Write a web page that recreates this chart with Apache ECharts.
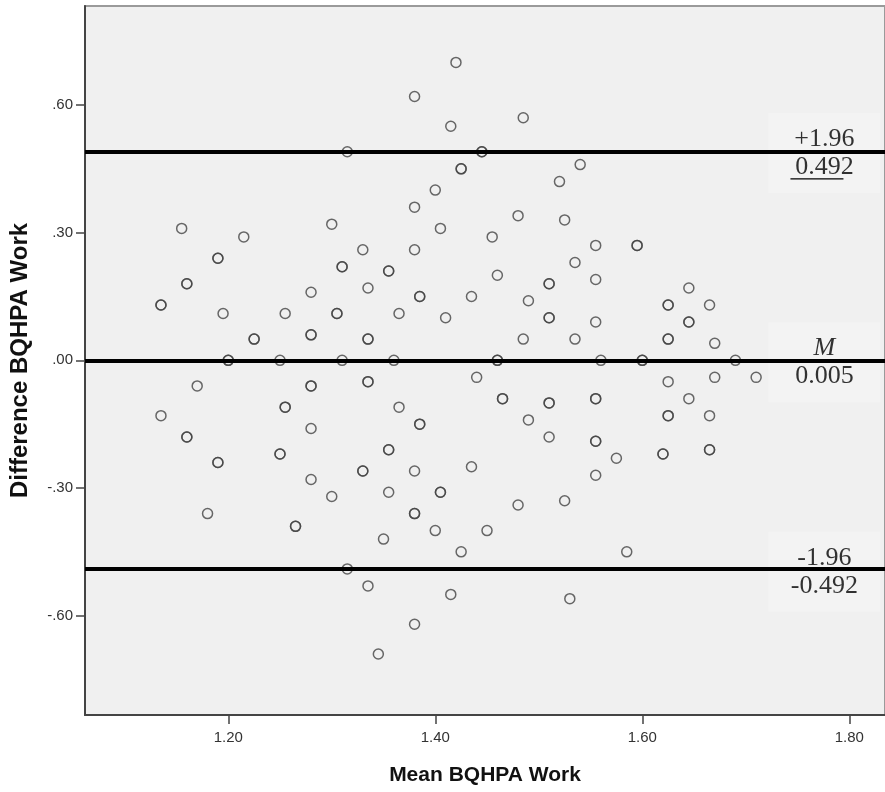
<!DOCTYPE html>
<html>
<head>
<meta charset="utf-8">
<title>Mean BQHPA Work</title>
<script src="https://cdn.jsdelivr.net/npm/echarts@6/dist/echarts.min.js"></script>
<style>
    html, body { margin: 0; padding: 0; background: #fff; }
    #chart { width: 885px; height: 792px; }
</style>
</head>
<body>
<div id="chart"></div>
<script>
// 散点数据 (x = 均值, y = 差值), 重叠点重复出现
var meanBQHPA = [
    1.420, 1.380, 1.485, 1.415, 1.315, 1.445, 1.445, 1.540, 1.425, 1.425,
    1.520, 1.400, 1.380, 1.480, 1.525, 1.300, 1.155, 1.405, 1.215, 1.455,
    1.555, 1.595, 1.595, 1.330, 1.380, 1.190, 1.190, 1.535, 1.310, 1.310,
    1.355, 1.355, 1.460, 1.555, 1.160, 1.160, 1.510, 1.510, 1.335, 1.645,
    1.280, 1.385, 1.385, 1.435, 1.490, 1.135, 1.135, 1.625, 1.625, 1.665,
    1.195, 1.255, 1.305, 1.305, 1.365, 1.410, 1.510, 1.510, 1.555, 1.645,
    1.645, 1.280, 1.280, 1.225, 1.225, 1.335, 1.335, 1.485, 1.535, 1.625,
    1.625, 1.670, 1.200, 1.200, 1.250, 1.310, 1.360, 1.460, 1.460, 1.560,
    1.600, 1.600, 1.690, 1.440, 1.670, 1.710, 1.335, 1.335, 1.625, 1.170,
    1.280, 1.280, 1.465, 1.465, 1.555, 1.555, 1.645, 1.510, 1.510, 1.255,
    1.255, 1.365, 1.135, 1.625, 1.625, 1.665, 1.490, 1.385, 1.385, 1.280,
    1.160, 1.160, 1.510, 1.555, 1.555, 1.355, 1.355, 1.665, 1.665, 1.250,
    1.250, 1.620, 1.620, 1.575, 1.190, 1.190, 1.435, 1.330, 1.330, 1.380,
    1.555, 1.280, 1.355, 1.405, 1.405, 1.300, 1.525, 1.480, 1.180, 1.380,
    1.380, 1.265, 1.265, 1.400, 1.450, 1.350, 1.425, 1.585, 1.315, 1.335,
    1.415, 1.530, 1.380, 1.345
];
var diffBQHPA = [
    0.70, 0.62, 0.57, 0.55, 0.49, 0.49, 0.49, 0.46, 0.45, 0.45,
    0.42, 0.40, 0.36, 0.34, 0.33, 0.32, 0.31, 0.31, 0.29, 0.29,
    0.27, 0.27, 0.27, 0.26, 0.26, 0.24, 0.24, 0.23, 0.22, 0.22,
    0.21, 0.21, 0.20, 0.19, 0.18, 0.18, 0.18, 0.18, 0.17, 0.17,
    0.16, 0.15, 0.15, 0.15, 0.14, 0.13, 0.13, 0.13, 0.13, 0.13,
    0.11, 0.11, 0.11, 0.11, 0.11, 0.10, 0.10, 0.10, 0.09, 0.09,
    0.09, 0.06, 0.06, 0.05, 0.05, 0.05, 0.05, 0.05, 0.05, 0.05,
    0.05, 0.04, 0.00, 0.00, 0.00, 0.00, 0.00, 0.00, 0.00, 0.00,
    0.00, 0.00, 0.00, -0.04, -0.04, -0.04, -0.05, -0.05, -0.05, -0.06,
    -0.06, -0.06, -0.09, -0.09, -0.09, -0.09, -0.09, -0.10, -0.10, -0.11,
    -0.11, -0.11, -0.13, -0.13, -0.13, -0.13, -0.14, -0.15, -0.15, -0.16,
    -0.18, -0.18, -0.18, -0.19, -0.19, -0.21, -0.21, -0.21, -0.21, -0.22,
    -0.22, -0.22, -0.22, -0.23, -0.24, -0.24, -0.25, -0.26, -0.26, -0.26,
    -0.27, -0.28, -0.31, -0.31, -0.31, -0.32, -0.33, -0.34, -0.36, -0.36,
    -0.36, -0.39, -0.39, -0.40, -0.40, -0.42, -0.45, -0.45, -0.49, -0.53,
    -0.55, -0.56, -0.62, -0.69
];

// 参考线: +1.96 / M / -1.96
var refLineValues = [0.492, 0.0, -0.492];
var refLineTop = ['+1.96', 'M', '-1.96'];
var refLineBottom = ['0.492', '0.005', '-0.492'];

// 刻度
var xTicks = [1.2, 1.4, 1.6, 1.8];
var xTickLabels = ['1.20', '1.40', '1.60', '1.80'];
var yTicks = [-0.6, -0.3, 0, 0.3, 0.6];
var yTickLabels = ['-.60', '-.30', '.00', '.30', '.60'];

var labelX = 1.776;   // 标注框中心所在的 x

var chart = echarts.init(document.getElementById('chart'), null, { renderer: 'canvas' });

var points = meanBQHPA.map(function (m, i) { return [m, diffBQHPA[i]]; });

var labelData = refLineValues.map(function (v, i) {
    return { value: [labelX, v], top: refLineTop[i], bottom: refLineBottom[i] };
});

function tickFormatter(ticks, labels) {
    return function (v) {
        var i = ticks.findIndex(function (t) { return Math.abs(t - v) < 1e-6; });
        return i >= 0 ? labels[i] : '';
    };
}

var option = {
    backgroundColor: '#fff',
    animation: false,
    grid: {
        left: 84,
        top: 6,
        right: -5,
        bottom: 77,
        show: true,
        backgroundColor: '#f0f0f0',
        borderColor: '#9a9a9a',
        borderWidth: 2
    },
    xAxis: {
        type: 'value',
        min: 1.0616,
        max: 1.8345,
        name: 'Mean BQHPA Work',
        nameLocation: 'middle',
        nameGap: 50,
        nameTextStyle: {
            fontFamily: 'Liberation Sans',
            fontWeight: 'bold',
            fontSize: 21,
            color: '#111'
        },
        splitLine: { show: false },
        axisLine: { onZero: false, lineStyle: { color: '#444', width: 2 } },
        axisTick: {
            customValues: xTicks,
            length: 9,
            lineStyle: { color: '#444', width: 1.5 }
        },
        axisLabel: {
            customValues: xTicks,
            margin: 15,
            fontFamily: 'Liberation Sans',
            fontSize: 15,
            color: '#333',
            formatter: tickFormatter(xTicks, xTickLabels)
        }
    },
    yAxis: {
        type: 'value',
        min: -0.8333,
        max: 0.8326,
        name: 'Difference BQHPA Work',
        nameLocation: 'middle',
        nameGap: 53,
        nameTextStyle: {
            fontFamily: 'Liberation Sans',
            fontWeight: 'bold',
            fontSize: 24,
            color: '#111'
        },
        splitLine: { show: false },
        axisLine: { show: true, onZero: false, lineStyle: { color: '#444', width: 2 } },
        axisTick: {
            show: true,
            customValues: yTicks,
            length: 9,
            lineStyle: { color: '#444', width: 1.5 }
        },
        axisLabel: {
            customValues: yTicks,
            margin: 12,
            fontFamily: 'Liberation Sans',
            fontSize: 15,
            color: '#333',
            formatter: tickFormatter(yTicks, yTickLabels)
        }
    },
    series: [
        {
            // 参考线标注 (放在线的下面)
            name: 'labels',
            type: 'scatter',
            symbolSize: 0,
            silent: true,
            z: 1,
            data: labelData,
            label: {
                show: true,
                position: 'inside',
                offset: [0, 2],
                backgroundColor: '#f4f4f4',
                padding: [12, 22, 12, 22],
                width: 68,
                align: 'center',
                formatter: function (p) {
                    var t = p.data.top === 'M' ? '{i|M}' : '{t|' + p.data.top + '}';
                    return t + '\n{t|' + p.data.bottom + '}';
                },
                rich: {
                    t: {
                        fontFamily: 'Liberation Serif',
                        fontSize: 26,
                        lineHeight: 28,
                        color: '#000',
                        align: 'center'
                    },
                    i: {
                        fontFamily: 'Liberation Serif',
                        fontStyle: 'italic',
                        fontSize: 26,
                        lineHeight: 28,
                        color: '#000',
                        align: 'center'
                    }
                }
            }
        },
        {
            name: 'diff',
            type: 'scatter',
            symbol: 'circle',
            symbolSize: 10,
            itemStyle: {
                color: 'rgba(0,0,0,0)',
                borderColor: '#444',
                borderWidth: 1.5
            },
            data: points,
            markLine: {
                silent: true,
                symbol: 'none',
                label: { show: false },
                lineStyle: { color: '#000', width: 4, type: 'solid' },
                data: refLineValues.map(function (v) { return { yAxis: v }; })
            },
            z: 3
        }
    ]
};

chart.setOption(option);

// 0.492 下面的下划线
var p = chart.convertToPixel({ gridIndex: 0 }, [labelX, refLineValues[0]]);
chart.setOption({
    graphic: [{
        type: 'line',
        silent: true,
        z: 10,
        shape: { x1: p[0] - 34, y1: p[1] + 28, x2: p[0] + 19, y2: p[1] + 28 },
        style: { stroke: '#000', lineWidth: 1.2 }
    }]
});
</script>
</body>
</html>
